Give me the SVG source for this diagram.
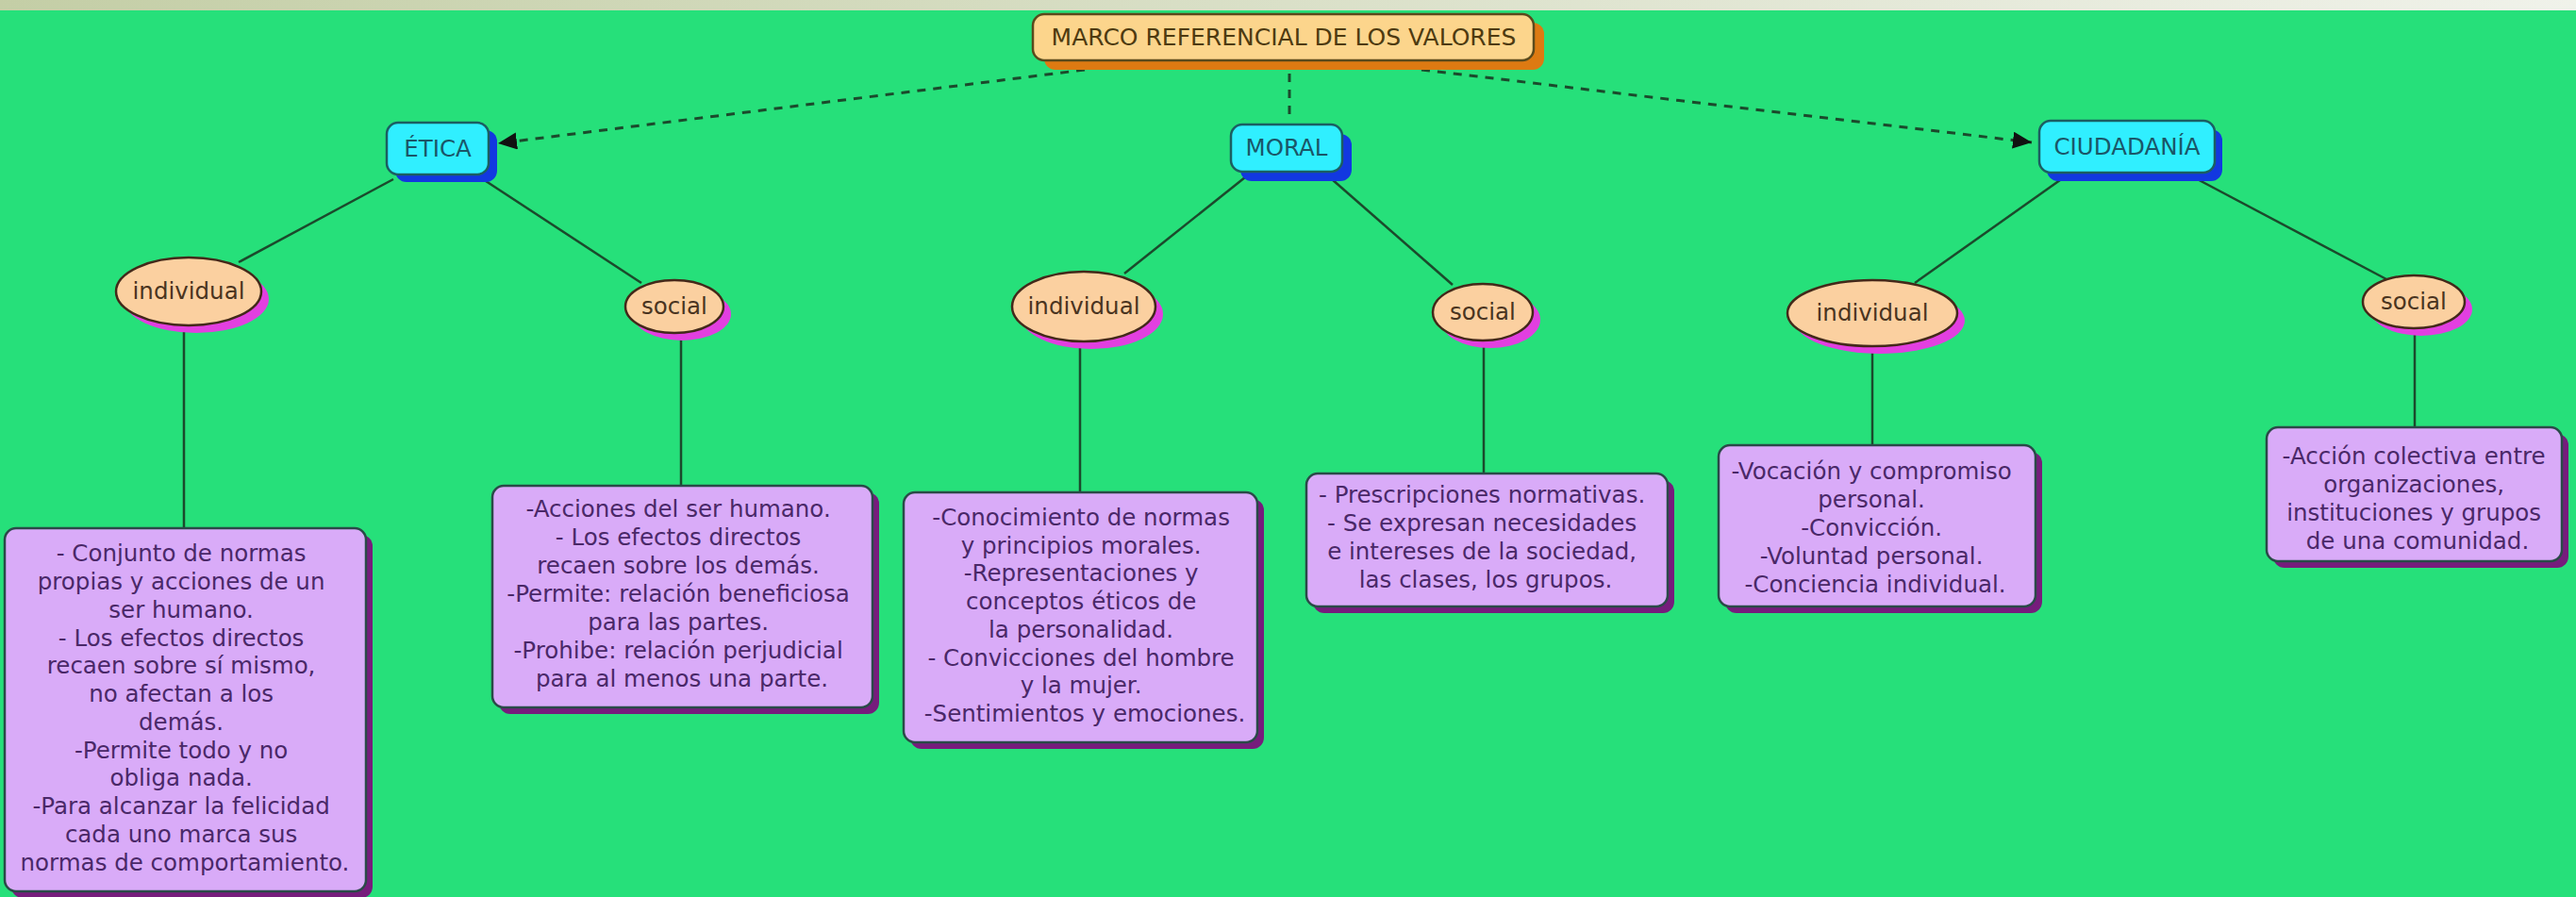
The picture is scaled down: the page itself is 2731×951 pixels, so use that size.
<svg xmlns="http://www.w3.org/2000/svg" width="2731" height="951" viewBox="0 0 2731 951">
<defs>
<linearGradient id="topbar" x1="0" y1="0" x2="1" y2="0">
<stop offset="0" stop-color="#c4cea6"/>
<stop offset="1" stop-color="#f0f2ea"/>
</linearGradient>
<marker id="arr" markerUnits="userSpaceOnUse" markerWidth="22" markerHeight="20" refX="20" refY="9" orient="auto">
<path d="M0,0 L20,9 L0,18 z" fill="#111"/>
</marker>
</defs>
<style>
.t{font-family:"DejaVu Sans","Verdana",sans-serif;font-size:24.5px;text-anchor:middle}
.root{fill:#fcd58c;stroke:#5a4a1c;stroke-width:2.5}
.rootsh{fill:#dd7a12}
.roottx{fill:#4e3a10;font-size:25px}
.blue{fill:#30efff;stroke:#1b5e62;stroke-width:2.5}
.bluesh{fill:#1238e0}
.bluetx{fill:#1a5668}
.ell{fill:#fbd0a0;stroke:#43291a;stroke-width:2.5}
.ellsh{fill:#e23fe0}
.elltx{fill:#4a3420}
.box{fill:#d9abf8;stroke:#2a4a48;stroke-width:2.5}
.boxsh{fill:#761c7c}
.boxtx{fill:#4a2868}
.con{stroke:#1b4a2c;stroke-width:2.5;fill:none}
.dash{stroke:#1b4a2c;stroke-width:3;fill:none;stroke-dasharray:9 8}
</style>
<rect x="0" y="0" width="2731" height="951" fill="#26e07a"/>
<rect x="0" y="0" width="2731" height="11" fill="url(#topbar)"/>

<g id="connectors">
<line class="dash" x1="1150" y1="74" x2="528" y2="152" marker-end="url(#arr)"/>
<line class="dash" x1="1367" y1="78" x2="1367" y2="128"/>
<line class="dash" x1="1507" y1="74" x2="2154" y2="151" marker-end="url(#arr)"/>
<line class="con" x1="417" y1="190" x2="253" y2="278"/>
<line class="con" x1="512" y1="190" x2="680" y2="300"/>
<line class="con" x1="195" y1="345" x2="195" y2="560"/>
<line class="con" x1="722" y1="353" x2="722" y2="515"/>
<line class="con" x1="1320" y1="188" x2="1192" y2="290"/>
<line class="con" x1="1412" y1="190" x2="1540" y2="302"/>
<line class="con" x1="1145" y1="362" x2="1145" y2="522"/>
<line class="con" x1="1573" y1="362" x2="1573" y2="502"/>
<line class="con" x1="2191" y1="186" x2="2030" y2="300"/>
<line class="con" x1="2322" y1="186" x2="2530" y2="296"/>
<line class="con" x1="1985" y1="367" x2="1985" y2="472"/>
<line class="con" x1="2560" y1="348" x2="2560" y2="453"/>
</g>

<g id="root">
<rect class="rootsh" x="1107" y="24" width="530" height="50" rx="12"/>
<rect class="root" x="1095" y="15" width="531" height="49" rx="12"/>
<text class="t roottx" x="1361" y="48">MARCO REFERENCIAL DE LOS VALORES</text>
</g>

<g id="etica">
<rect class="bluesh" x="419" y="138" width="108" height="55" rx="12"/>
<rect class="blue" x="410" y="130" width="108" height="55" rx="12"/>
<text class="t bluetx" x="464" y="166">ÉTICA</text>
</g>

<g id="moral">
<rect class="bluesh" x="1315" y="142" width="118" height="50" rx="12"/>
<rect class="blue" x="1305" y="132" width="118" height="50" rx="12"/>
<text class="t bluetx" x="1364" y="165">MORAL</text>
</g>

<g id="ciudadania">
<rect class="bluesh" x="2170" y="137" width="186" height="55" rx="12"/>
<rect class="blue" x="2162" y="128" width="186" height="55" rx="12"/>
<text class="t bluetx" x="2255" y="164">CIUDADANÍA</text>
</g>

<g id="etica-individual">
<ellipse class="ellsh" cx="208" cy="317" rx="77" ry="36"/>
<ellipse class="ell" cx="200" cy="309" rx="77" ry="36"/>
<text class="t elltx" x="200" y="317">individual</text>
</g>

<g id="etica-social">
<ellipse class="ellsh" cx="723" cy="333" rx="52" ry="28"/>
<ellipse class="ell" cx="715" cy="325" rx="52" ry="28"/>
<text class="t elltx" x="715" y="333">social</text>
</g>

<g id="moral-individual">
<ellipse class="ellsh" cx="1157" cy="333" rx="76" ry="37"/>
<ellipse class="ell" cx="1149" cy="325" rx="76" ry="37"/>
<text class="t elltx" x="1149" y="333">individual</text>
</g>

<g id="moral-social">
<ellipse class="ellsh" cx="1580" cy="339" rx="53" ry="30"/>
<ellipse class="ell" cx="1572" cy="331" rx="53" ry="30"/>
<text class="t elltx" x="1572" y="339">social</text>
</g>

<g id="ciudadania-individual">
<ellipse class="ellsh" cx="1993" cy="340" rx="90" ry="35"/>
<ellipse class="ell" cx="1985" cy="332" rx="90" ry="35"/>
<text class="t elltx" x="1985" y="340">individual</text>
</g>

<g id="ciudadania-social">
<ellipse class="ellsh" cx="2567" cy="328" rx="54" ry="28"/>
<ellipse class="ell" cx="2559" cy="320" rx="54" ry="28"/>
<text class="t elltx" x="2559" y="328">social</text>
</g>

<g id="etica-individual-desc">
<rect class="boxsh" x="12" y="567" width="383" height="385" rx="12"/>
<rect class="box" x="5" y="560" width="383" height="385" rx="12"/>
<text class="t boxtx">
<tspan x="196" y="595">- Conjunto de normas</tspan>
<tspan x="196" y="625">propias y acciones de un</tspan>
<tspan x="196" y="655">ser humano.</tspan>
<tspan x="196" y="685">- Los efectos directos</tspan>
<tspan x="196" y="714">recaen sobre sí mismo,</tspan>
<tspan x="196" y="744">no afectan a los</tspan>
<tspan x="196" y="774">demás.</tspan>
<tspan x="196" y="804">-Permite todo y no</tspan>
<tspan x="196" y="833">obliga nada.</tspan>
<tspan x="196" y="863">-Para alcanzar la felicidad</tspan>
<tspan x="196" y="893">cada uno marca sus</tspan>
<tspan x="196" y="923">normas de comportamiento.</tspan>
</text>
</g>

<g id="etica-social-desc">
<rect class="boxsh" x="529" y="522" width="403" height="235" rx="12"/>
<rect class="box" x="522" y="515" width="403" height="235" rx="12"/>
<text class="t boxtx">
<tspan x="723" y="548">-Acciones del ser humano.</tspan>
<tspan x="723" y="578">- Los efectos directos</tspan>
<tspan x="723" y="608">recaen sobre los demás.</tspan>
<tspan x="723" y="638">-Permite: relación beneficiosa</tspan>
<tspan x="723" y="668">para las partes.</tspan>
<tspan x="723" y="698">-Prohibe: relación perjudicial</tspan>
<tspan x="723" y="728">para al menos una parte.</tspan>
</text>
</g>

<g id="moral-individual-desc">
<rect class="boxsh" x="965" y="529" width="375" height="265" rx="12"/>
<rect class="box" x="958" y="522" width="375" height="265" rx="12"/>
<text class="t boxtx">
<tspan x="1150" y="557">-Conocimiento de normas</tspan>
<tspan x="1150" y="587">y principios morales.</tspan>
<tspan x="1150" y="616">-Representaciones y</tspan>
<tspan x="1150" y="646">conceptos éticos de</tspan>
<tspan x="1150" y="676">la personalidad.</tspan>
<tspan x="1150" y="706">- Convicciones del hombre</tspan>
<tspan x="1150" y="735">y la mujer.</tspan>
<tspan x="1150" y="765">-Sentimientos y emociones.</tspan>
</text>
</g>

<g id="moral-social-desc">
<rect class="boxsh" x="1392" y="509" width="383" height="141" rx="12"/>
<rect class="box" x="1385" y="502" width="383" height="141" rx="12"/>
<text class="t boxtx">
<tspan x="1575" y="533">- Prescripciones normativas.</tspan>
<tspan x="1575" y="563">- Se expresan necesidades</tspan>
<tspan x="1575" y="593">e intereses de la sociedad,</tspan>
<tspan x="1575" y="623">las clases, los grupos.</tspan>
</text>
</g>

<g id="ciudadania-individual-desc">
<rect class="boxsh" x="1829" y="479" width="336" height="171" rx="12"/>
<rect class="box" x="1822" y="472" width="336" height="171" rx="12"/>
<text class="t boxtx">
<tspan x="1988" y="508">-Vocación y compromiso</tspan>
<tspan x="1988" y="538">personal.</tspan>
<tspan x="1988" y="568">-Convicción.</tspan>
<tspan x="1988" y="598">-Voluntad personal.</tspan>
<tspan x="1988" y="628">-Conciencia individual.</tspan>
</text>
</g>

<g id="ciudadania-social-desc">
<rect class="boxsh" x="2410" y="460" width="313" height="142" rx="12"/>
<rect class="box" x="2403" y="453" width="313" height="142" rx="12"/>
<text class="t boxtx">
<tspan x="2563" y="492">-Acción colectiva entre</tspan>
<tspan x="2563" y="522">organizaciones,</tspan>
<tspan x="2563" y="552">instituciones y grupos</tspan>
<tspan x="2563" y="582">de una comunidad.</tspan>
</text>
</g>
</svg>
